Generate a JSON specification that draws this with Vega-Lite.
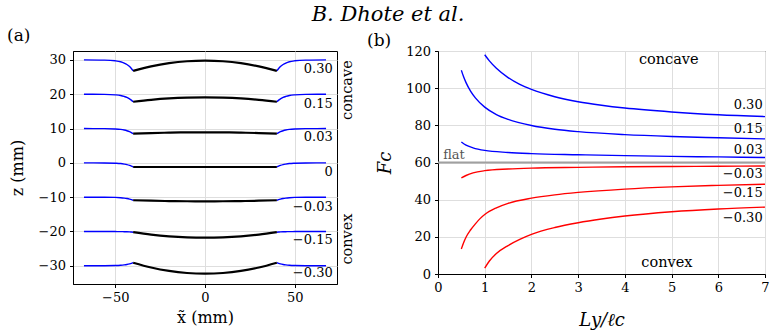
{
  "$schema": "https://vega.github.io/schema/vega-lite/v6.json",
  "background": "white",
  "padding": {"left": 6, "top": 3, "right": 4, "bottom": 2},
  "title": {"text": "B. Dhote et al.", "font": "DejaVu Serif", "fontStyle": "italic", "fontWeight": "normal", "fontSize": 21, "color": "#000", "anchor": "middle", "offset": 5, "dy": 3},
  "config": {
    "font": "DejaVu Serif",
    "view": {"stroke": "#000", "strokeWidth": 1},
    "axis": {"labelFont": "DejaVu Serif", "labelFontSize": 13, "labelColor": "#000", "titleFont": "DejaVu Serif", "titleFontSize": 16, "titleFontWeight": "normal", "titleColor": "#000", "tickColor": "#000", "tickSize": 3.5, "domainColor": "#000", "gridColor": "#dedede", "gridWidth": 1, "labelPadding": 4, "labelFlush": false, "labelOverlap": false, "labelSeparation": 0},
    "title": {"font": "DejaVu Serif", "fontWeight": "normal", "color": "#000"}
  },
  "datasets": {
    "profiles": [
      {"k": "c30", "s": "L", "x": -67.4, "z": 30}, {"k": "c30", "s": "L", "x": -56, "z": 29.94}, {"k": "c30", "s": "L", "x": -50, "z": 29.74}, {"k": "c30", "s": "L", "x": -47, "z": 29.46}, {"k": "c30", "s": "L", "x": -45, "z": 29.07}, {"k": "c30", "s": "L", "x": -43.5, "z": 28.66}, {"k": "c30", "s": "L", "x": -42, "z": 28.05}, {"k": "c30", "s": "L", "x": -41, "z": 27.5}, {"k": "c30", "s": "L", "x": -40, "z": 26.8},
      {"k": "c30", "s": "R", "x": 40, "z": 26.8}, {"k": "c30", "s": "R", "x": 41, "z": 27.5}, {"k": "c30", "s": "R", "x": 42, "z": 28.05}, {"k": "c30", "s": "R", "x": 43.5, "z": 28.66}, {"k": "c30", "s": "R", "x": 45, "z": 29.07}, {"k": "c30", "s": "R", "x": 47, "z": 29.46}, {"k": "c30", "s": "R", "x": 50, "z": 29.74}, {"k": "c30", "s": "R", "x": 56, "z": 29.94}, {"k": "c30", "s": "R", "x": 67.4, "z": 30},
      {"k": "c30", "s": "M", "x": -40, "z": 26.8}, {"k": "c30", "s": "M", "x": -30, "z": 28.11}, {"k": "c30", "s": "M", "x": -20, "z": 29.05}, {"k": "c30", "s": "M", "x": -10, "z": 29.61}, {"k": "c30", "s": "M", "x": 0, "z": 29.8}, {"k": "c30", "s": "M", "x": 10, "z": 29.61}, {"k": "c30", "s": "M", "x": 20, "z": 29.05}, {"k": "c30", "s": "M", "x": 30, "z": 28.11}, {"k": "c30", "s": "M", "x": 40, "z": 26.8},

      {"k": "c15", "s": "L", "x": -67.4, "z": 20}, {"k": "c15", "s": "L", "x": -56, "z": 19.96}, {"k": "c15", "s": "L", "x": -50, "z": 19.82}, {"k": "c15", "s": "L", "x": -47, "z": 19.63}, {"k": "c15", "s": "L", "x": -45, "z": 19.36}, {"k": "c15", "s": "L", "x": -43.5, "z": 19.08}, {"k": "c15", "s": "L", "x": -42, "z": 18.66}, {"k": "c15", "s": "L", "x": -41, "z": 18.28}, {"k": "c15", "s": "L", "x": -40, "z": 17.8},
      {"k": "c15", "s": "R", "x": 40, "z": 17.8}, {"k": "c15", "s": "R", "x": 41, "z": 18.28}, {"k": "c15", "s": "R", "x": 42, "z": 18.66}, {"k": "c15", "s": "R", "x": 43.5, "z": 19.08}, {"k": "c15", "s": "R", "x": 45, "z": 19.36}, {"k": "c15", "s": "R", "x": 47, "z": 19.63}, {"k": "c15", "s": "R", "x": 50, "z": 19.82}, {"k": "c15", "s": "R", "x": 56, "z": 19.96}, {"k": "c15", "s": "R", "x": 67.4, "z": 20},
      {"k": "c15", "s": "M", "x": -40, "z": 17.8}, {"k": "c15", "s": "M", "x": -30, "z": 18.37}, {"k": "c15", "s": "M", "x": -20, "z": 18.78}, {"k": "c15", "s": "M", "x": -10, "z": 19.02}, {"k": "c15", "s": "M", "x": 0, "z": 19.1}, {"k": "c15", "s": "M", "x": 10, "z": 19.02}, {"k": "c15", "s": "M", "x": 20, "z": 18.78}, {"k": "c15", "s": "M", "x": 30, "z": 18.37}, {"k": "c15", "s": "M", "x": 40, "z": 17.8},

      {"k": "c03", "s": "L", "x": -67.4, "z": 10}, {"k": "c03", "s": "L", "x": -56, "z": 9.97}, {"k": "c03", "s": "L", "x": -50, "z": 9.88}, {"k": "c03", "s": "L", "x": -47, "z": 9.75}, {"k": "c03", "s": "L", "x": -45, "z": 9.57}, {"k": "c03", "s": "L", "x": -43.5, "z": 9.37}, {"k": "c03", "s": "L", "x": -42, "z": 9.09}, {"k": "c03", "s": "L", "x": -41, "z": 8.83}, {"k": "c03", "s": "L", "x": -40, "z": 8.5},
      {"k": "c03", "s": "R", "x": 40, "z": 8.5}, {"k": "c03", "s": "R", "x": 41, "z": 8.83}, {"k": "c03", "s": "R", "x": 42, "z": 9.09}, {"k": "c03", "s": "R", "x": 43.5, "z": 9.37}, {"k": "c03", "s": "R", "x": 45, "z": 9.57}, {"k": "c03", "s": "R", "x": 47, "z": 9.75}, {"k": "c03", "s": "R", "x": 50, "z": 9.88}, {"k": "c03", "s": "R", "x": 56, "z": 9.97}, {"k": "c03", "s": "R", "x": 67.4, "z": 10},
      {"k": "c03", "s": "M", "x": -40, "z": 8.5}, {"k": "c03", "s": "M", "x": -30, "z": 8.68}, {"k": "c03", "s": "M", "x": -20, "z": 8.8}, {"k": "c03", "s": "M", "x": -10, "z": 8.88}, {"k": "c03", "s": "M", "x": 0, "z": 8.9}, {"k": "c03", "s": "M", "x": 10, "z": 8.88}, {"k": "c03", "s": "M", "x": 20, "z": 8.8}, {"k": "c03", "s": "M", "x": 30, "z": 8.68}, {"k": "c03", "s": "M", "x": 40, "z": 8.5},

      {"k": "c00", "s": "L", "x": -67.4, "z": 0}, {"k": "c00", "s": "L", "x": -56, "z": -0.02}, {"k": "c00", "s": "L", "x": -50, "z": -0.1}, {"k": "c00", "s": "L", "x": -47, "z": -0.2}, {"k": "c00", "s": "L", "x": -45, "z": -0.35}, {"k": "c00", "s": "L", "x": -43.5, "z": -0.5}, {"k": "c00", "s": "L", "x": -42, "z": -0.73}, {"k": "c00", "s": "L", "x": -41, "z": -0.94}, {"k": "c00", "s": "L", "x": -40, "z": -1.2},
      {"k": "c00", "s": "R", "x": 40, "z": -1.2}, {"k": "c00", "s": "R", "x": 41, "z": -0.94}, {"k": "c00", "s": "R", "x": 42, "z": -0.73}, {"k": "c00", "s": "R", "x": 43.5, "z": -0.5}, {"k": "c00", "s": "R", "x": 45, "z": -0.35}, {"k": "c00", "s": "R", "x": 47, "z": -0.2}, {"k": "c00", "s": "R", "x": 50, "z": -0.1}, {"k": "c00", "s": "R", "x": 56, "z": -0.02}, {"k": "c00", "s": "R", "x": 67.4, "z": 0},
      {"k": "c00", "s": "M", "x": -40, "z": -1.2}, {"k": "c00", "s": "M", "x": 0, "z": -1.2}, {"k": "c00", "s": "M", "x": 40, "z": -1.2},

      {"k": "v03", "s": "L", "x": -67.4, "z": -10}, {"k": "v03", "s": "L", "x": -56, "z": -10.02}, {"k": "v03", "s": "L", "x": -50, "z": -10.07}, {"k": "v03", "s": "L", "x": -47, "z": -10.15}, {"k": "v03", "s": "L", "x": -45, "z": -10.26}, {"k": "v03", "s": "L", "x": -43.5, "z": -10.38}, {"k": "v03", "s": "L", "x": -42, "z": -10.55}, {"k": "v03", "s": "L", "x": -41, "z": -10.7}, {"k": "v03", "s": "L", "x": -40, "z": -10.9},
      {"k": "v03", "s": "R", "x": 40, "z": -10.9}, {"k": "v03", "s": "R", "x": 41, "z": -10.7}, {"k": "v03", "s": "R", "x": 42, "z": -10.55}, {"k": "v03", "s": "R", "x": 43.5, "z": -10.38}, {"k": "v03", "s": "R", "x": 45, "z": -10.26}, {"k": "v03", "s": "R", "x": 47, "z": -10.15}, {"k": "v03", "s": "R", "x": 50, "z": -10.07}, {"k": "v03", "s": "R", "x": 56, "z": -10.02}, {"k": "v03", "s": "R", "x": 67.4, "z": -10},
      {"k": "v03", "s": "M", "x": -40, "z": -10.9}, {"k": "v03", "s": "M", "x": -30, "z": -11.03}, {"k": "v03", "s": "M", "x": -20, "z": -11.13}, {"k": "v03", "s": "M", "x": -10, "z": -11.18}, {"k": "v03", "s": "M", "x": 0, "z": -11.2}, {"k": "v03", "s": "M", "x": 10, "z": -11.18}, {"k": "v03", "s": "M", "x": 20, "z": -11.13}, {"k": "v03", "s": "M", "x": 30, "z": -11.03}, {"k": "v03", "s": "M", "x": 40, "z": -10.9},

      {"k": "v15", "s": "L", "x": -67.4, "z": -20}, {"k": "v15", "s": "L", "x": -56, "z": -20}, {"k": "v15", "s": "L", "x": -50, "z": -20.02}, {"k": "v15", "s": "L", "x": -47, "z": -20.03}, {"k": "v15", "s": "L", "x": -45, "z": -20.06}, {"k": "v15", "s": "L", "x": -43.5, "z": -20.08}, {"k": "v15", "s": "L", "x": -42, "z": -20.12}, {"k": "v15", "s": "L", "x": -41, "z": -20.16}, {"k": "v15", "s": "L", "x": -40, "z": -20.2},
      {"k": "v15", "s": "R", "x": 40, "z": -20.2}, {"k": "v15", "s": "R", "x": 41, "z": -20.16}, {"k": "v15", "s": "R", "x": 42, "z": -20.12}, {"k": "v15", "s": "R", "x": 43.5, "z": -20.08}, {"k": "v15", "s": "R", "x": 45, "z": -20.06}, {"k": "v15", "s": "R", "x": 47, "z": -20.03}, {"k": "v15", "s": "R", "x": 50, "z": -20.02}, {"k": "v15", "s": "R", "x": 56, "z": -20}, {"k": "v15", "s": "R", "x": 67.4, "z": -20},
      {"k": "v15", "s": "M", "x": -40, "z": -20.2}, {"k": "v15", "s": "M", "x": -30, "z": -20.9}, {"k": "v15", "s": "M", "x": -20, "z": -21.4}, {"k": "v15", "s": "M", "x": -10, "z": -21.7}, {"k": "v15", "s": "M", "x": 0, "z": -21.8}, {"k": "v15", "s": "M", "x": 10, "z": -21.7}, {"k": "v15", "s": "M", "x": 20, "z": -21.4}, {"k": "v15", "s": "M", "x": 30, "z": -20.9}, {"k": "v15", "s": "M", "x": 40, "z": -20.2},

      {"k": "v30", "s": "L", "x": -67.4, "z": -30}, {"k": "v30", "s": "L", "x": -56, "z": -29.98}, {"k": "v30", "s": "L", "x": -50, "z": -29.93}, {"k": "v30", "s": "L", "x": -47, "z": -29.85}, {"k": "v30", "s": "L", "x": -45, "z": -29.74}, {"k": "v30", "s": "L", "x": -43.5, "z": -29.62}, {"k": "v30", "s": "L", "x": -42, "z": -29.45}, {"k": "v30", "s": "L", "x": -41, "z": -29.3}, {"k": "v30", "s": "L", "x": -40, "z": -29.1},
      {"k": "v30", "s": "R", "x": 40, "z": -29.1}, {"k": "v30", "s": "R", "x": 41, "z": -29.3}, {"k": "v30", "s": "R", "x": 42, "z": -29.45}, {"k": "v30", "s": "R", "x": 43.5, "z": -29.62}, {"k": "v30", "s": "R", "x": 45, "z": -29.74}, {"k": "v30", "s": "R", "x": 47, "z": -29.85}, {"k": "v30", "s": "R", "x": 50, "z": -29.93}, {"k": "v30", "s": "R", "x": 56, "z": -29.98}, {"k": "v30", "s": "R", "x": 67.4, "z": -30},
      {"k": "v30", "s": "M", "x": -40, "z": -29.1}, {"k": "v30", "s": "M", "x": -30, "z": -30.5}, {"k": "v30", "s": "M", "x": -20, "z": -31.5}, {"k": "v30", "s": "M", "x": -10, "z": -32.1}, {"k": "v30", "s": "M", "x": 0, "z": -32.3}, {"k": "v30", "s": "M", "x": 10, "z": -32.1}, {"k": "v30", "s": "M", "x": 20, "z": -31.5}, {"k": "v30", "s": "M", "x": 30, "z": -30.5}, {"k": "v30", "s": "M", "x": 40, "z": -29.1}
    ],
    "profileLabels": [
      {"lab": "0.30", "x": 71.1, "z": 27.3},
      {"lab": "0.15", "x": 71.1, "z": 17.1},
      {"lab": "0.03", "x": 71.1, "z": 7.5},
      {"lab": "0", "x": 71.1, "z": -2.6},
      {"lab": "−0.03", "x": 71.1, "z": -12.8},
      {"lab": "−0.15", "x": 71.1, "z": -22.5},
      {"lab": "−0.30", "x": 71.1, "z": -32.2}
    ],
    "profileSides": [
      {"lab": "concave", "x": 79.6, "z": 21.2},
      {"lab": "convex", "x": 79.6, "z": -22.2}
    ],
    "forces": [
      {"k": "0.30", "t": "concave", "L": 1, "F": 118}, {"k": "0.30", "t": "concave", "L": 1.1, "F": 114.7}, {"k": "0.30", "t": "concave", "L": 1.25, "F": 110.7}, {"k": "0.30", "t": "concave", "L": 1.5, "F": 105.7}, {"k": "0.30", "t": "concave", "L": 1.75, "F": 102}, {"k": "0.30", "t": "concave", "L": 2, "F": 99.3}, {"k": "0.30", "t": "concave", "L": 2.5, "F": 95.4}, {"k": "0.30", "t": "concave", "L": 3, "F": 92.7}, {"k": "0.30", "t": "concave", "L": 3.5, "F": 90.8}, {"k": "0.30", "t": "concave", "L": 4, "F": 89.3}, {"k": "0.30", "t": "concave", "L": 5, "F": 87.2}, {"k": "0.30", "t": "concave", "L": 6, "F": 85.7}, {"k": "0.30", "t": "concave", "L": 7, "F": 84.7},
      {"k": "0.15", "t": "concave", "L": 0.5, "F": 109.6}, {"k": "0.15", "t": "concave", "L": 0.55, "F": 106}, {"k": "0.15", "t": "concave", "L": 0.6, "F": 103}, {"k": "0.15", "t": "concave", "L": 0.7, "F": 98.3}, {"k": "0.15", "t": "concave", "L": 0.8, "F": 94.8}, {"k": "0.15", "t": "concave", "L": 1, "F": 89.8}, {"k": "0.15", "t": "concave", "L": 1.25, "F": 85.8}, {"k": "0.15", "t": "concave", "L": 1.5, "F": 83.2}, {"k": "0.15", "t": "concave", "L": 2, "F": 79.9}, {"k": "0.15", "t": "concave", "L": 2.5, "F": 77.9}, {"k": "0.15", "t": "concave", "L": 3, "F": 76.6}, {"k": "0.15", "t": "concave", "L": 4, "F": 75}, {"k": "0.15", "t": "concave", "L": 5, "F": 74}, {"k": "0.15", "t": "concave", "L": 6, "F": 73.3}, {"k": "0.15", "t": "concave", "L": 7, "F": 72.7},
      {"k": "0.03", "t": "concave", "L": 0.5, "F": 71}, {"k": "0.03", "t": "concave", "L": 0.6, "F": 69.3}, {"k": "0.03", "t": "concave", "L": 0.75, "F": 67.9}, {"k": "0.03", "t": "concave", "L": 1, "F": 66.5}, {"k": "0.03", "t": "concave", "L": 1.5, "F": 65.4}, {"k": "0.03", "t": "concave", "L": 2, "F": 64.8}, {"k": "0.03", "t": "concave", "L": 3, "F": 64.2}, {"k": "0.03", "t": "concave", "L": 4, "F": 63.7}, {"k": "0.03", "t": "concave", "L": 5, "F": 63.3}, {"k": "0.03", "t": "concave", "L": 6, "F": 63}, {"k": "0.03", "t": "concave", "L": 7, "F": 62.7},
      {"k": "-0.03", "t": "convex", "L": 0.5, "F": 51.7}, {"k": "-0.03", "t": "convex", "L": 0.6, "F": 53}, {"k": "-0.03", "t": "convex", "L": 0.75, "F": 54.4}, {"k": "-0.03", "t": "convex", "L": 1, "F": 55.6}, {"k": "-0.03", "t": "convex", "L": 1.5, "F": 56.5}, {"k": "-0.03", "t": "convex", "L": 2, "F": 57}, {"k": "-0.03", "t": "convex", "L": 3, "F": 57.4}, {"k": "-0.03", "t": "convex", "L": 4, "F": 57.7}, {"k": "-0.03", "t": "convex", "L": 5, "F": 57.85}, {"k": "-0.03", "t": "convex", "L": 6, "F": 58}, {"k": "-0.03", "t": "convex", "L": 7, "F": 58.1},
      {"k": "-0.15", "t": "convex", "L": 0.5, "F": 13.5}, {"k": "-0.15", "t": "convex", "L": 0.55, "F": 17}, {"k": "-0.15", "t": "convex", "L": 0.6, "F": 19.8}, {"k": "-0.15", "t": "convex", "L": 0.7, "F": 23.8}, {"k": "-0.15", "t": "convex", "L": 0.8, "F": 27}, {"k": "-0.15", "t": "convex", "L": 0.9, "F": 29.8}, {"k": "-0.15", "t": "convex", "L": 1, "F": 32}, {"k": "-0.15", "t": "convex", "L": 1.25, "F": 35.6}, {"k": "-0.15", "t": "convex", "L": 1.5, "F": 38}, {"k": "-0.15", "t": "convex", "L": 2, "F": 40.8}, {"k": "-0.15", "t": "convex", "L": 2.5, "F": 42.6}, {"k": "-0.15", "t": "convex", "L": 3, "F": 43.9}, {"k": "-0.15", "t": "convex", "L": 4, "F": 45.7}, {"k": "-0.15", "t": "convex", "L": 5, "F": 46.9}, {"k": "-0.15", "t": "convex", "L": 6, "F": 47.7}, {"k": "-0.15", "t": "convex", "L": 7, "F": 48.3},
      {"k": "-0.30", "t": "convex", "L": 1, "F": 3.2}, {"k": "-0.30", "t": "convex", "L": 1.1, "F": 7}, {"k": "-0.30", "t": "convex", "L": 1.25, "F": 11}, {"k": "-0.30", "t": "convex", "L": 1.5, "F": 15.3}, {"k": "-0.30", "t": "convex", "L": 1.75, "F": 18.6}, {"k": "-0.30", "t": "convex", "L": 2, "F": 21.3}, {"k": "-0.30", "t": "convex", "L": 2.5, "F": 25}, {"k": "-0.30", "t": "convex", "L": 3, "F": 27.6}, {"k": "-0.30", "t": "convex", "L": 3.5, "F": 29.6}, {"k": "-0.30", "t": "convex", "L": 4, "F": 31.2}, {"k": "-0.30", "t": "convex", "L": 5, "F": 33.5}, {"k": "-0.30", "t": "convex", "L": 6, "F": 35}, {"k": "-0.30", "t": "convex", "L": 7, "F": 36}
    ],
    "forceLabels": [
      {"lab": "0.30", "L": 6.95, "F": 90.7},
      {"lab": "0.15", "L": 6.95, "F": 77.8},
      {"lab": "0.03", "L": 6.95, "F": 66.8},
      {"lab": "−0.03", "L": 6.95, "F": 53.9},
      {"lab": "−0.15", "L": 6.95, "F": 43.7},
      {"lab": "−0.30", "L": 6.95, "F": 30.2}
    ],
    "regimeLabels": [
      {"lab": "concave", "L": 4.94, "F": 115},
      {"lab": "convex", "L": 4.9, "F": 5.9}
    ],
    "flatLine": [{"lab": "flat", "L": 0.11, "F": 60}]
  },
  "bounds": "flush",
  "spacing": 101,
  "hconcat": [
    {
      "width": 264,
      "height": 233,
      "title": {"text": "(a)", "anchor": "start", "frame": "group", "dx": -66, "dy": 0, "fontSize": 17, "offset": 6},
      "layer": [
        {
          "data": {"name": "profiles"},
          "transform": [{"filter": "datum.s !== 'M'"}],
          "mark": {"type": "line", "color": "#0000ff", "strokeWidth": 1.4, "interpolate": "monotone"},
          "encoding": {
            "x": {"field": "x", "type": "quantitative", "scale": {"domain": [-73.5, 73.5], "nice": false, "zero": false},
                  "axis": {"values": [-50, 0, 50], "format": "d", "title": "x\u0303 (mm)", "titlePadding": 5, "labelOverlap": false}},
            "y": {"field": "z", "type": "quantitative", "scale": {"domain": [-35.3, 32.6], "nice": false, "zero": false},
                  "axis": {"values": [-30, -20, -10, 0, 10, 20, 30], "tickCount": 20, "format": "d", "title": "z (mm)", "titlePadding": 13, "labelOverlap": false}},
            "detail": [{"field": "k", "type": "nominal"}, {"field": "s", "type": "nominal"}]
          }
        },
        {
          "data": {"name": "profiles"},
          "transform": [{"filter": "datum.s === 'M'"}],
          "mark": {"type": "line", "color": "#000", "strokeWidth": 2.2, "interpolate": "monotone"},
          "encoding": {
            "x": {"field": "x", "type": "quantitative"},
            "y": {"field": "z", "type": "quantitative"},
            "detail": {"field": "k", "type": "nominal"}
          }
        },
        {
          "data": {"name": "profileLabels"},
          "mark": {"type": "text", "align": "right", "baseline": "middle", "font": "DejaVu Serif", "fontSize": 13, "color": "#000"},
          "encoding": {
            "x": {"field": "x", "type": "quantitative"},
            "y": {"field": "z", "type": "quantitative"},
            "text": {"field": "lab"}
          }
        },
        {
          "data": {"name": "profileSides"},
          "mark": {"type": "text", "align": "center", "baseline": "middle", "angle": 270, "font": "DejaVu Serif", "fontSize": 14.5, "color": "#000"},
          "encoding": {
            "x": {"field": "x", "type": "quantitative"},
            "y": {"field": "z", "type": "quantitative"},
            "text": {"field": "lab"}
          }
        }
      ]
    },
    {
      "width": 327,
      "height": 223,
      "title": {"text": "(b)", "anchor": "start", "frame": "group", "dx": -71, "dy": 11, "fontSize": 17, "offset": 6},
      "layer": [
        {
          "data": {"name": "flatLine"},
          "mark": {"type": "rule", "color": "#a0a0a0", "strokeWidth": 2},
          "encoding": {
            "y": {"field": "F", "type": "quantitative", "scale": {"domain": [0, 120], "nice": false},
                  "axis": {"values": [0, 20, 40, 60, 80, 100, 120], "tickCount": 20, "format": "d", "title": "Fc", "titleFontStyle": "italic", "titleFontSize": 18, "titlePadding": 11, "labelOverlap": false}}
          }
        },
        {
          "data": {"name": "forces"},
          "mark": {"type": "line", "strokeWidth": 1.4, "interpolate": "monotone"},
          "encoding": {
            "x": {"field": "L", "type": "quantitative", "scale": {"domain": [0, 7], "nice": false},
                  "axis": {"values": [0, 1, 2, 3, 4, 5, 6, 7], "tickCount": 20, "format": "d", "title": "Ly/ℓc", "titleFontStyle": "italic", "titleFontSize": 18, "titlePadding": 17, "labelOverlap": false}},
            "y": {"field": "F", "type": "quantitative"},
            "color": {"field": "t", "type": "nominal", "scale": {"domain": ["concave", "convex"], "range": ["#0000ff", "#ff0000"]}, "legend": null},
            "detail": {"field": "k", "type": "nominal"}
          }
        },
        {
          "data": {"name": "flatLine"},
          "mark": {"type": "text", "align": "left", "baseline": "bottom", "dy": -1, "font": "DejaVu Serif", "fontSize": 13, "color": "#555"},
          "encoding": {
            "x": {"field": "L", "type": "quantitative"},
            "y": {"field": "F", "type": "quantitative"},
            "text": {"field": "lab"}
          }
        },
        {
          "data": {"name": "forceLabels"},
          "mark": {"type": "text", "align": "right", "baseline": "middle", "font": "DejaVu Serif", "fontSize": 13, "color": "#000"},
          "encoding": {
            "x": {"field": "L", "type": "quantitative"},
            "y": {"field": "F", "type": "quantitative"},
            "text": {"field": "lab"}
          }
        },
        {
          "data": {"name": "regimeLabels"},
          "mark": {"type": "text", "align": "center", "baseline": "middle", "font": "DejaVu Serif", "fontSize": 14.5, "color": "#000"},
          "encoding": {
            "x": {"field": "L", "type": "quantitative"},
            "y": {"field": "F", "type": "quantitative"},
            "text": {"field": "lab"}
          }
        }
      ]
    }
  ]
}
